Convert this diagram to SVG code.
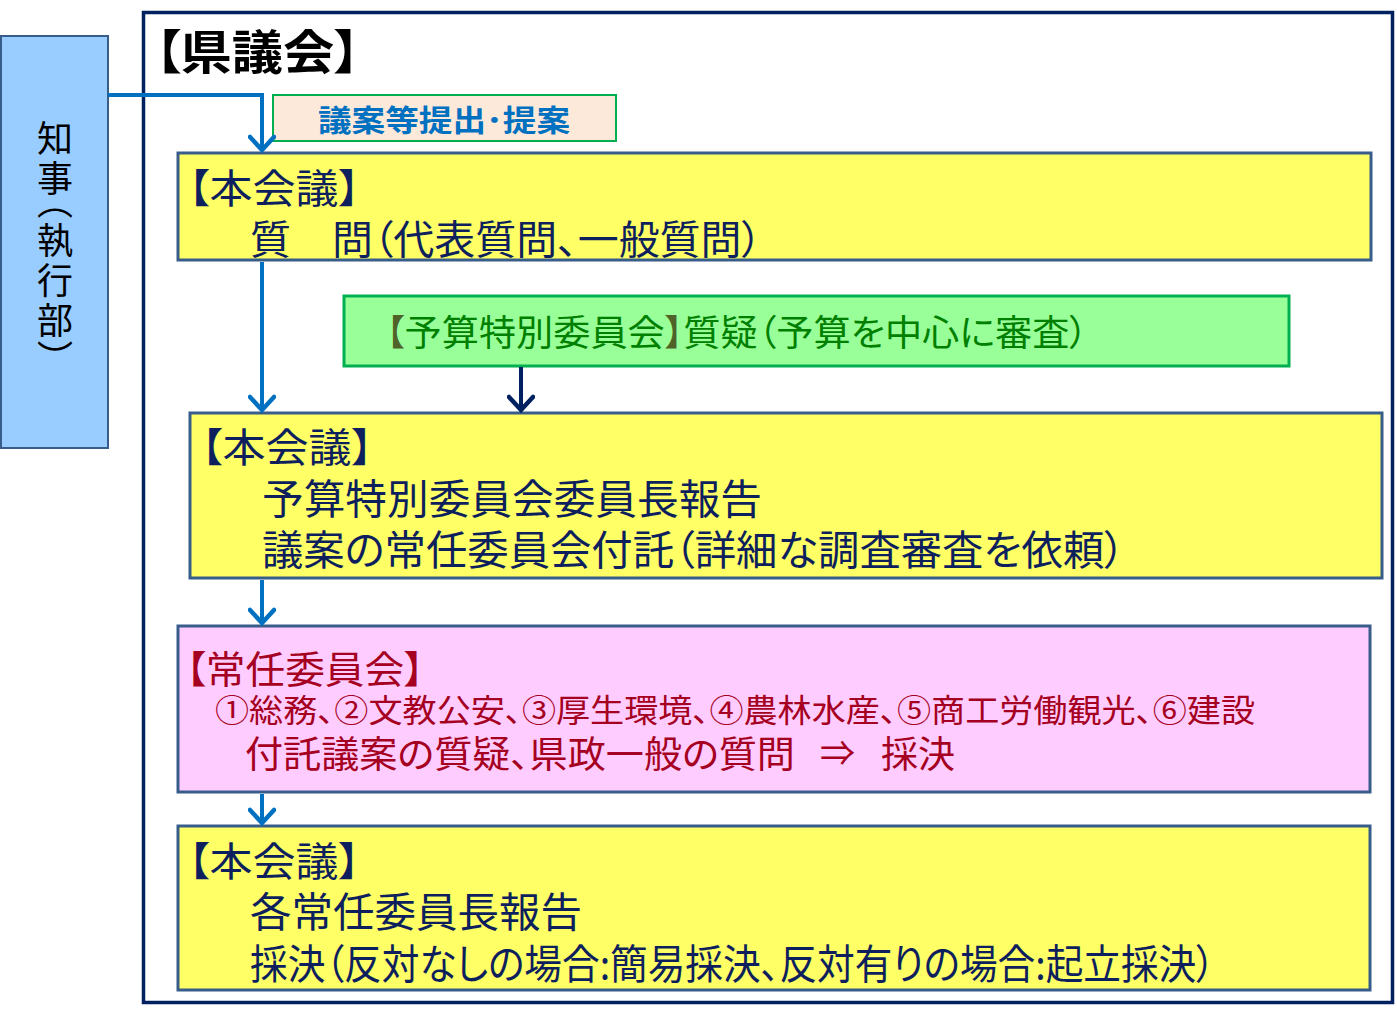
<svg xmlns="http://www.w3.org/2000/svg" width="1397" height="1009" viewBox="0 0 1397 1009">
<style>
text { font-family: "Noto Sans CJK JP", "Noto Sans", sans-serif; font-feature-settings: "palt"; }
.box { stroke: #385d8a; stroke-width: 3; }
.yel { fill: #ffff66; }
.navy { fill: #0d1f5c; font-size: 40px; }
.big { font-size: 41px; }
.red { fill: #a50021; }
.grn { fill: #008000; }
.conn { fill: none; stroke-width: 4; }
.blue { stroke: #0070c0; }
.dark { stroke: #002060; }
</style>
<defs>
<marker id="ab" markerUnits="userSpaceOnUse" viewBox="-16 -14 20 28" refX="0" refY="0" markerWidth="20" markerHeight="28" orient="auto">
<path d="M-13,-12 L0,0 L-13,12" fill="none" stroke="#0070c0" stroke-width="4.5" stroke-linecap="round" stroke-linejoin="miter"/>
</marker>
<marker id="an" markerUnits="userSpaceOnUse" viewBox="-16 -14 20 28" refX="0" refY="0" markerWidth="20" markerHeight="28" orient="auto">
<path d="M-13,-12 L0,0 L-13,12" fill="none" stroke="#002060" stroke-width="4.5" stroke-linecap="round" stroke-linejoin="miter"/>
</marker>
</defs>
<rect width="1397" height="1009" fill="#ffffff"/>

<g id="kengikai">
<rect x="143.5" y="12.5" width="1249" height="990" fill="none" stroke="#002060" stroke-width="3.5"/>
<text x="155" y="69" font-size="47" font-weight="bold" fill="#000" textLength="205" lengthAdjust="spacingAndGlyphs">【県議会】</text>
</g>

<g id="chiji">
<rect x="1" y="36" width="107" height="412" fill="#99ccff" stroke="#385d8a" stroke-width="2"/>
<text x="55" y="120" font-size="36" fill="#000" writing-mode="vertical-rl" letter-spacing="4" style="font-feature-settings:'vpal'">知事（執行部）</text>
</g>

<g id="teishutsu">
<rect x="273" y="95" width="343" height="46" fill="#fde9d9" stroke="#00b050" stroke-width="2"/>
<text x="318" y="131" font-size="30" font-weight="bold" fill="#0070c0" textLength="252" lengthAdjust="spacingAndGlyphs">議案等提出･提案</text>
</g>

<g id="honkaigi1">
<rect class="box yel" x="178" y="153" width="1193" height="107"/>
<text class="navy" x="188" y="203" textLength="172" lengthAdjust="spacingAndGlyphs">【本会議】</text>
<text class="navy" x="250" y="254" textLength="512" lengthAdjust="spacingAndGlyphs">質　問（代表質問、一般質問）</text>
</g>

<g id="yosan">
<rect x="344" y="296" width="945" height="70" fill="#99ff99" stroke="#00b050" stroke-width="3"/>
<text x="386" y="346" font-size="36" textLength="702" lengthAdjust="spacingAndGlyphs" class="grn"><tspan fill="#4f6228">【</tspan>予算特別委員会<tspan fill="#4f6228">】</tspan>質疑（予算を中心に審査）</text>
</g>

<g id="honkaigi2">
<rect class="box yel" x="190" y="413" width="1192" height="165"/>
<text class="navy" x="201" y="462" textLength="172" lengthAdjust="spacingAndGlyphs">【本会議】</text>
<text class="navy big" x="262" y="514" textLength="500" lengthAdjust="spacingAndGlyphs">予算特別委員会委員長報告</text>
<text class="navy big" x="262" y="565" textLength="863" lengthAdjust="spacingAndGlyphs">議案の常任委員会付託（詳細な調査審査を依頼）</text>
</g>

<g id="jonin">
<rect class="box" x="178" y="626" width="1192" height="166" fill="#ffccff"/>
<text class="red" x="186" y="683" font-size="38" textLength="238" lengthAdjust="spacingAndGlyphs">【常任委員会】</text>
<text class="red" x="215" y="722" font-size="32" textLength="1040" lengthAdjust="spacingAndGlyphs">①総務、②文教公安、③厚生環境、④農林水産、⑤商工労働観光、⑥建設</text>
<text class="red" x="245" y="768" font-size="37" textLength="550" lengthAdjust="spacingAndGlyphs">付託議案の質疑、県政一般の質問</text>
<text class="red" x="820" y="766" font-size="35">⇒</text>
<text class="red" x="881" y="768" font-size="37" textLength="74" lengthAdjust="spacingAndGlyphs">採決</text>
</g>

<g id="honkaigi3">
<rect class="box yel" x="178" y="826" width="1192" height="164"/>
<text class="navy" x="188" y="876" textLength="172" lengthAdjust="spacingAndGlyphs">【本会議】</text>
<text class="navy big" x="250" y="927" textLength="332" lengthAdjust="spacingAndGlyphs">各常任委員長報告</text>
<text class="navy big" x="250" y="979" textLength="965" lengthAdjust="spacingAndGlyphs">採決（反対なしの場合:簡易採決、反対有りの場合:起立採決）</text>
</g>

<g id="connectors">
<path class="conn blue" d="M108,95 H262 V150" marker-end="url(#ab)"/>
<path class="conn blue" d="M262,262 V410" marker-end="url(#ab)"/>
<path class="conn dark" d="M521,367 V410" marker-end="url(#an)"/>
<path class="conn blue" d="M262,580 V623" marker-end="url(#ab)"/>
<path class="conn blue" d="M262,794 V823" marker-end="url(#ab)"/>
</g>
</svg>
